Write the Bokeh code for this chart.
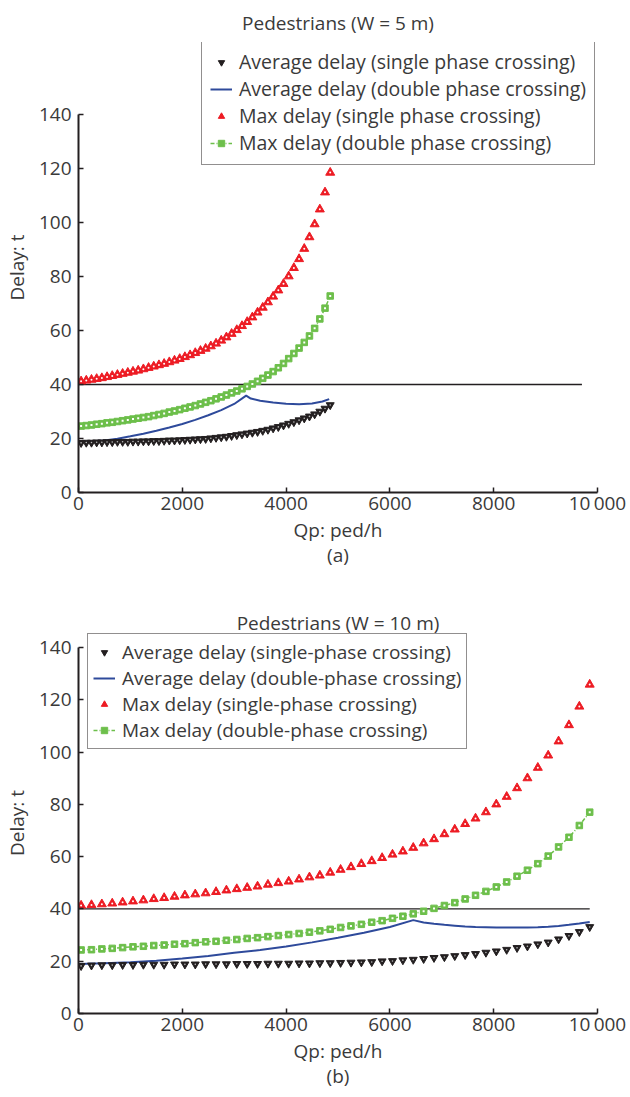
from bokeh.plotting import figure
from bokeh.models import Range1d, Legend, LegendItem, Title, FixedTicker
from bokeh.layouts import column
from bokeh.embed import file_html
from bokeh.resources import INLINE

# ---------------- data ----------------
# Panel (a): W = 5 m
a_x = [50, 150, 250, 350, 450, 550, 650, 750, 850, 950,
       1050, 1150, 1250, 1350, 1450, 1550, 1650, 1750, 1850, 1950,
       2050, 2150, 2250, 2350, 2450, 2550, 2650, 2750, 2850, 2950,
       3050, 3150, 3250, 3350, 3450, 3550, 3650, 3750, 3850, 3950,
       4050, 4150, 4250, 4350, 4450, 4550, 4650, 4750, 4850]
a_avg_single = [18.4, 18.5, 18.5, 18.6, 18.6, 18.7, 18.7, 18.8, 18.8, 18.8,
                18.9, 18.9, 19.0, 19.0, 19.1, 19.1, 19.2, 19.3, 19.3, 19.4,
                19.5, 19.6, 19.7, 19.8, 19.9, 20.1, 20.3, 20.5, 20.7, 21.0,
                21.3, 21.6, 21.9, 22.2, 22.5, 22.9, 23.3, 23.8, 24.3, 24.9,
                25.5, 26.1, 26.8, 27.5, 28.2, 29.0, 30.0, 31.1, 32.4]
a_max_single = [41.2, 41.5, 41.8, 42.1, 42.4, 42.8, 43.2, 43.6, 44.0, 44.4,
                44.8, 45.2, 45.7, 46.2, 46.7, 47.2, 47.7, 48.3, 48.9, 49.5,
                50.2, 50.9, 51.7, 52.5, 53.3, 54.2, 55.2, 56.3, 57.5, 58.8,
                60.2, 61.7, 63.2, 64.9, 66.7, 68.5, 70.5, 72.6, 74.9, 77.3,
                80.1, 83.2, 86.5, 90.3, 94.6, 99.4, 104.9, 111.2, 118.5]
a_max_double = [24.6, 24.8, 25.0, 25.3, 25.5, 25.8, 26.0, 26.3, 26.6, 26.9,
                27.2, 27.5, 27.8, 28.1, 28.5, 28.9, 29.3, 29.8, 30.2, 30.7,
                31.2, 31.7, 32.2, 32.8, 33.4, 34.0, 34.7, 35.4, 36.1, 36.9,
                37.6, 38.4, 39.3, 40.2, 41.2, 42.3, 43.5, 44.8, 46.2, 47.8,
                49.6, 51.5, 53.5, 55.6, 58.0, 60.8, 64.3, 68.3, 72.8]
a_avg_double_x = [0, 250, 500, 750, 1000, 1250, 1500, 1750, 2000, 2250, 2500,
                  2750, 3000, 3230, 3320, 3500, 3750, 4000, 4250, 4500, 4700, 4830]
a_avg_double = [18.8, 19.0, 19.3, 19.9, 20.8, 21.8, 22.9, 24.1, 25.4, 26.9, 28.6,
                30.5, 32.8, 35.9, 34.8, 34.0, 33.3, 32.9, 32.7, 33.0, 33.7, 34.6]
a_ref_x = [0, 9700]
a_ref_y = [40, 40]

# Panel (b): W = 10 m
b_x = [50, 250, 450, 650, 850, 1050, 1250, 1450, 1650, 1850,
       2050, 2250, 2450, 2650, 2850, 3050, 3250, 3450, 3650, 3850,
       4050, 4250, 4450, 4650, 4850, 5050, 5250, 5450, 5650, 5850,
       6050, 6250, 6450, 6650, 6850, 7050, 7250, 7450, 7650, 7850,
       8050, 8250, 8450, 8650, 8850, 9050, 9250, 9450, 9650, 9850]
b_avg_single = [18.2, 18.4, 18.5, 18.5, 18.6, 18.6, 18.7, 18.7, 18.7, 18.8,
                18.8, 18.8, 18.9, 18.9, 18.9, 19.0, 19.0, 19.0, 19.1, 19.1,
                19.1, 19.2, 19.2, 19.3, 19.3, 19.4, 19.5, 19.6, 19.7, 20.0,
                20.1, 20.4, 20.6, 20.9, 21.3, 21.6, 22.0, 22.4, 22.8, 23.3,
                23.8, 24.4, 25.1, 25.7, 26.5, 27.2, 28.4, 29.7, 31.2, 33.1]
b_max_single = [41.3, 41.5, 41.8, 42.1, 42.5, 42.9, 43.3, 43.8, 44.2, 44.7,
                45.2, 45.6, 46.0, 46.5, 47.1, 47.6, 48.1, 48.6, 49.3, 49.9,
                50.5, 51.3, 52.1, 52.8, 53.9, 55.0, 56.0, 57.2, 58.3, 59.5,
                60.8, 62.0, 63.4, 65.1, 66.7, 68.6, 70.4, 72.5, 74.6, 77.0,
                80.0, 82.9, 86.2, 90.0, 94.0, 98.7, 104.1, 110.3, 117.4, 125.8]
b_max_double = [24.3, 24.4, 24.7, 24.9, 25.2, 25.5, 25.7, 26.0, 26.2, 26.5,
                26.7, 27.1, 27.4, 27.6, 28.0, 28.3, 28.7, 29.0, 29.4, 29.8,
                30.2, 30.6, 31.1, 31.6, 32.2, 32.9, 33.5, 34.1, 34.9, 35.5,
                36.4, 37.2, 38.1, 39.1, 40.2, 41.3, 42.4, 43.8, 45.2, 46.7,
                48.4, 50.3, 52.5, 54.8, 57.3, 60.2, 63.7, 67.4, 71.9, 77.0]
b_avg_double_x = [0, 500, 1000, 1500, 2000, 2500, 3000, 3500, 4000, 4500, 5000,
                  5500, 6000, 6450, 6650, 6850, 7050, 7250, 7450, 7650, 7850,
                  8050, 8250, 8450, 8650, 8850, 9050, 9250, 9450, 9650, 9850]
b_avg_double = [18.9, 19.2, 19.6, 20.2, 21.0, 22.0, 23.2, 24.3, 25.6, 27.2, 29.0,
                30.9, 33.1, 35.7, 34.8, 34.3, 33.9, 33.6, 33.3, 33.1, 33.0,
                32.9, 32.85, 32.85, 32.9, 33.0, 33.2, 33.5, 33.9, 34.4, 35.0]
b_ref_x = [0, 9850]
b_ref_y = [40, 40]

x_ticks = [0, 2000, 4000, 6000, 8000, 10000]
y_ticks = [0, 20, 40, 60, 80, 100, 120, 140]
x_tick_labels = {10000: "10\u2009000"}

# ---------------- style ----------------
FONT = "Open Sans"
FS = "19px"
TXT = "#3a3a3a"
RED = "#ed1c24"
GREEN = "#6dbf4b"
BLUE = "#2e4a9b"
BLACK = "#231f20"


def panel(title, sub, xs, avg_s, max_s, max_d, bx, by, rx, ry, ref_w, labels,
          height, top, bottom, y_end, title_standoff, leg_loc, leg_fs, leg_pad, msize):
    p = figure(width=630, height=height, output_backend="svg", toolbar_location=None,
               x_range=Range1d(0, 10000), y_range=Range1d(0, y_end),
               min_border_left=77, min_border_right=33,
               min_border_top=top, min_border_bottom=bottom)
    p.outline_line_color = None
    p.grid.visible = False
    p.background_fill_color = "white"
    p.border_fill_color = "white"

    p.title.text = title
    p.title.align = "center"
    p.title.text_font = FONT
    p.title.text_font_size = FS
    p.title.text_font_style = "normal"
    p.title.text_color = TXT
    p.title.standoff = title_standoff

    for ax in (p.xaxis[0], p.yaxis[0]):
        ax.axis_line_color = BLACK
        ax.axis_line_width = 2
        ax.major_tick_line_color = BLACK
        ax.major_tick_line_width = 1.5
        ax.major_tick_in = 5
        ax.major_tick_out = 0
        ax.minor_tick_line_color = None
        ax.major_label_text_font = FONT
        ax.major_label_text_font_size = FS
        ax.major_label_text_color = TXT
        ax.axis_label_text_font = FONT
        ax.axis_label_text_font_size = FS
        ax.axis_label_text_font_style = "normal"
        ax.axis_label_text_color = TXT
    p.xaxis.ticker = FixedTicker(ticks=x_ticks)
    p.yaxis.ticker = FixedTicker(ticks=y_ticks)
    p.yaxis.bounds = (0, 140)
    p.xaxis.major_label_overrides = x_tick_labels
    p.xaxis.axis_label = "Qp: ped/h"
    p.yaxis.axis_label = "Delay: t"
    p.xaxis.major_label_standoff = -3
    p.xaxis.axis_label_standoff = -2
    p.yaxis.major_label_standoff = 7
    p.yaxis.axis_label_standoff = 6

    st = Title(text=sub, align="center", text_font=FONT, text_font_size=FS,
               text_font_style="normal", text_color=TXT, standoff=-11)
    p.add_layout(st, "below")

    p.line(rx, ry, line_color=BLACK, line_width=ref_w)

    gl = p.line(xs, max_d, line_color=GREEN, line_width=1.5, line_dash="4 2 1 2")
    gs = p.scatter(xs, max_d, marker="square", size=6.5, fill_color=GREEN,
                   line_color=GREEN, line_width=1)
    p.scatter(xs, max_d, marker="square", size=2, fill_color="white", line_color=None)
    bl = p.line(bx, by, line_color=BLUE, line_width=2)
    ks = p.scatter(xs, avg_s, marker="inverted_triangle", size=msize - 1, fill_color=BLACK,
                   line_color=BLACK, line_width=1)
    p.scatter(xs, avg_s, marker="circle", size=1.6, fill_color="#bbbbbb", line_color=None)
    rs = p.scatter(xs, max_s, marker="triangle", size=msize, fill_color=RED,
                   line_color=RED, line_width=1)
    p.scatter(xs, max_s, marker="circle", size=2, fill_color="white", line_color=None)

    items = [LegendItem(label=labels[0], renderers=[ks]),
             LegendItem(label=labels[1], renderers=[bl]),
             LegendItem(label=labels[2], renderers=[rs]),
             LegendItem(label=labels[3], renderers=[gl, gs])]
    leg = Legend(items=items, location=leg_loc, orientation="vertical",
                 border_line_color=BLACK, border_line_width=1.5,
                 background_fill_color="white", background_fill_alpha=1,
                 label_text_font=FONT, label_text_font_size=leg_fs,
                 label_text_color=TXT, padding=leg_pad, margin=0,
                 glyph_width=22, glyph_height=16, label_height=16,
                 label_standoff=7, spacing=0)
    p.add_layout(leg)
    return p


labels_a = ["Average delay (single phase crossing)",
            "Average delay (double phase crossing)",
            "Max delay (single phase crossing)",
            "Max delay (double phase crossing)"]
labels_b = ["Average delay (single-phase crossing)",
            "Average delay (double-phase crossing)",
            "Max delay (single-phase crossing)",
            "Max delay (double-phase crossing)"]

pa = panel("Pedestrians (W = 5 m)", "(a)", a_x, a_avg_single, a_max_single, a_max_double,
           a_avg_double_x, a_avg_double, a_ref_x, a_ref_y, 1.5, labels_a,
           575, 40, 83, 166.7, 14, (123, 327), "19.5px", 8, 9)
pb = panel("Pedestrians (W = 10 m)", "(b)", b_x, b_avg_single, b_max_single, b_max_double,
           b_avg_double_x, b_avg_double, b_ref_x, b_ref_y, 1.2, labels_b,
           522, 57, 84, 145.7, -7, (9, 264), "19px", 5, 9)

layout = column(pa, pb, spacing=0)
open("out.html", "w").write(file_html(layout, INLINE))
